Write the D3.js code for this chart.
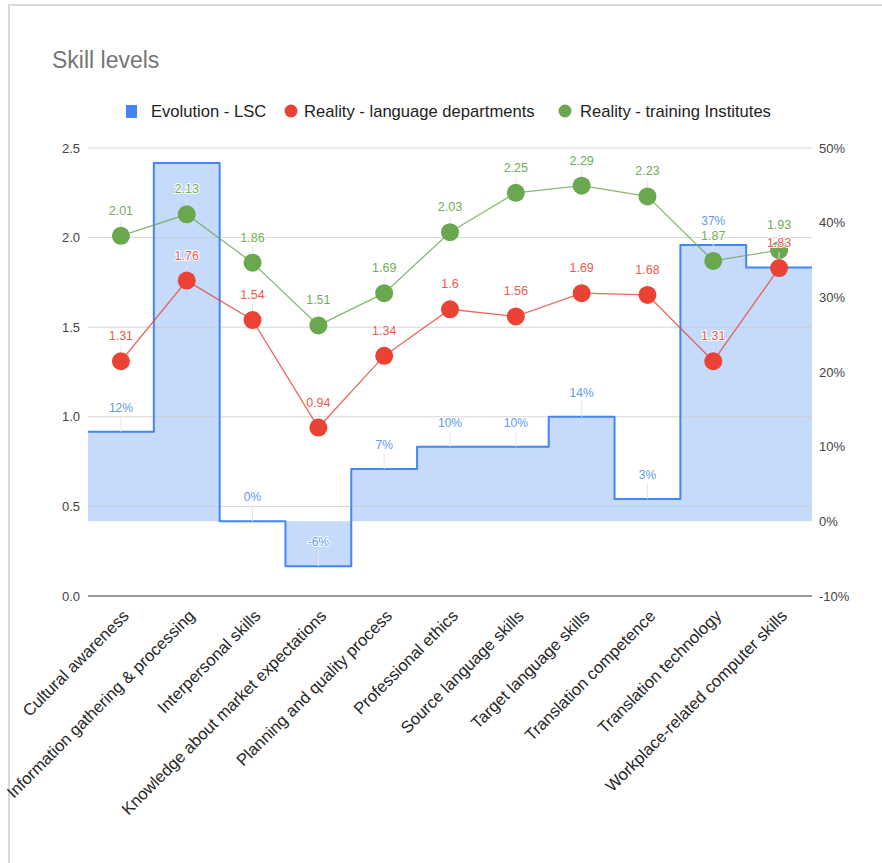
<!DOCTYPE html>
<html>
<head>
<meta charset="utf-8">
<script src="https://cdn.jsdelivr.net/npm/d3@7"></script>
<style>
  body { margin: 0; background: #fff; }
  svg { font-family: "Liberation Sans", Arial, sans-serif; }
</style>
</head>
<body>
<div id="grafico"></div>
<script>
// datos del gráfico
const categorias = [
    "Cultural awareness",
    "Information gathering & processing",
    "Interpersonal skills",
    "Knowledge about market expectations",
    "Planning and quality process",
    "Professional ethics",
    "Source language skills",
    "Target language skills",
    "Translation competence",
    "Translation technology",
    "Workplace-related computer skills"
];
const evolucionLSC = [0.12, 0.48, 0.00, -0.06, 0.07, 0.10, 0.10, 0.14, 0.03, 0.37, 0.34];
const etiquetasEvolucion = ["12%", "", "0%", "-6%", "7%", "10%", "10%", "14%", "3%", "37%", ""];
const realidadDepartamentos = [1.31, 1.76, 1.54, 0.94, 1.34, 1.6, 1.56, 1.69, 1.68, 1.31, 1.83];
const realidadInstitutos = [2.01, 2.13, 1.86, 1.51, 1.69, 2.03, 2.25, 2.29, 2.23, 1.87, 1.93];
const ticksIzquierda = [0, 0.5, 1.0, 1.5, 2.0, 2.5];
const ticksDerecha = [-0.1, 0, 0.1, 0.2, 0.3, 0.4, 0.5];
const leyenda = ["Evolution - LSC", "Reality - language departments", "Reality - training Institutes"];

const ancho = 882, alto = 863;
const izq = 88, der = 812, arriba = 148, abajo = 596;

const azul = "#4285f4", rojo = "#ea4335", verde = "#6aa84f";

const $svg = d3.select("#grafico")
    .append("svg")
    .attr("width", ancho)
    .attr("height", alto);

// marco gris
$svg.append("path")
    .attr("d", `M9,${alto} L9,5 L${ancho},5`)
    .attr("fill", "none")
    .attr("stroke", "#dadada")
    .attr("stroke-width", 2);

$svg.append("text")
    .attr("x", 52).attr("y", 68)
    .attr("font-size", 23)
    .attr("fill", "#757575")
    .text("Skill levels");

const x = d3.scaleBand().domain(categorias).range([izq, der]);
const y = d3.scaleLinear().domain([0, 2.5]).range([abajo, arriba]);
const yDer = d3.scaleLinear().domain([-0.1, 0.5]).range([abajo, arriba]);
const centro = c => x(c) + x.bandwidth() / 2;

// leyenda
const gLeyenda = $svg.append("g").attr("font-size", 16.6).attr("fill", "#222");
gLeyenda.append("rect").attr("x", 126).attr("y", 105).attr("width", 11).attr("height", 13).attr("fill", azul);
gLeyenda.append("text").attr("x", 151).attr("y", 117).text(leyenda[0]);
gLeyenda.append("circle").attr("cx", 291).attr("cy", 111).attr("r", 6.5).attr("fill", rojo);
gLeyenda.append("text").attr("x", 304).attr("y", 117).text(leyenda[1]);
gLeyenda.append("circle").attr("cx", 565).attr("cy", 111).attr("r", 6.5).attr("fill", verde);
gLeyenda.append("text").attr("x", 580).attr("y", 117).text(leyenda[2]);

// area escalonada
const pasos = categorias.map((c, i) => ({ x: x(c), v: evolucionLSC[i] }));
pasos.push({ x: der, v: evolucionLSC[evolucionLSC.length - 1] });

$svg.append("path")
    .attr("d", d3.area().curve(d3.curveStepAfter)
        .x(d => d.x).y0(yDer(0)).y1(d => yDer(d.v))(pasos))
    .attr("fill", azul)
    .attr("fill-opacity", 0.3);

// cuadrícula
$svg.append("g").selectAll("line")
    .data(ticksIzquierda.slice(1))
    .join("line")
    .attr("x1", izq).attr("x2", der)
    .attr("y1", d => y(d)).attr("y2", d => y(d))
    .attr("stroke", "#cccccc")
    .attr("stroke-opacity", 0.8);

$svg.append("line")
    .attr("x1", izq).attr("x2", der)
    .attr("y1", y(0)).attr("y2", y(0))
    .attr("stroke", "#333").attr("stroke-width", 1.2);

$svg.append("path")
    .attr("d", d3.line().curve(d3.curveStepAfter)
        .x(d => d.x).y(d => yDer(d.v))(pasos))
    .attr("fill", "none")
    .attr("stroke", azul)
    .attr("stroke-width", 2)
    .attr("stroke-linejoin", "round");

// ejes
$svg.append("g").attr("font-size", 13).attr("fill", "#444")
    .selectAll("text").data(ticksIzquierda).join("text")
    .attr("x", 80).attr("y", d => y(d) + 4.5)
    .attr("text-anchor", "end")
    .text(d => d.toFixed(1));

$svg.append("g").attr("font-size", 13).attr("fill", "#444")
    .selectAll("text").data(ticksDerecha).join("text")
    .attr("x", 819).attr("y", d => yDer(d) + 4.5)
    .text(d => Math.round(d * 100) + "%");

$svg.append("g").attr("font-size", 16.6).attr("fill", "#262626")
    .selectAll("text").data(categorias).join("text")
    .attr("transform", c => `translate(${centro(c) + 9},${abajo + 21}) rotate(-45)`)
    .attr("text-anchor", "end")
    .text(c => c);

// etiquetas escalonadas
const gEvo = $svg.append("g");
categorias.forEach((c, i) => {
    if (!etiquetasEvolucion[i]) return;
    const yy = yDer(evolucionLSC[i]);
    gEvo.append("line")
        .attr("x1", centro(c)).attr("x2", centro(c))
        .attr("y1", yy - 16).attr("y2", yy)
        .attr("stroke", "#e6e6e6");
    gEvo.append("text")
        .attr("x", centro(c)).attr("y", yy - 20)
        .attr("text-anchor", "middle")
        .attr("font-size", 12)
        .attr("fill", "#5e97f6")
        .attr("stroke", "#fff").attr("stroke-width", 2).attr("paint-order", "stroke")
        .text(etiquetasEvolucion[i]);
});

const serie = (valores, color, colorTexto) => {
    const g = $svg.append("g");
    g.append("path")
        .attr("d", d3.line().x((d, i) => centro(categorias[i])).y(d => y(d))(valores))
        .attr("fill", "none")
        .attr("stroke", color)
        .attr("stroke-opacity", 0.8)
        .attr("stroke-width", 1.3);
    g.selectAll("line").data(valores).join("line")
        .attr("x1", (d, i) => centro(categorias[i]))
        .attr("x2", (d, i) => centro(categorias[i]))
        .attr("y1", d => y(d) - 16).attr("y2", d => y(d) - 9)
        .attr("stroke", "#e6e6e6");
    g.selectAll("circle").data(valores).join("circle")
        .attr("cx", (d, i) => centro(categorias[i]))
        .attr("cy", d => y(d))
        .attr("r", 9)
        .attr("fill", color);
    g.selectAll("text").data(valores).join("text")
        .attr("x", (d, i) => centro(categorias[i]))
        .attr("y", d => y(d) - 21)
        .attr("text-anchor", "middle")
        .attr("font-size", 12.5)
        .attr("fill", colorTexto)
        .attr("stroke", "#fff").attr("stroke-width", 2).attr("paint-order", "stroke")
        .text(d => d);
};

serie(realidadInstitutos, verde, "#6fae55");
serie(realidadDepartamentos, rojo, "#ef5a4e");
</script>
</body>
</html>
